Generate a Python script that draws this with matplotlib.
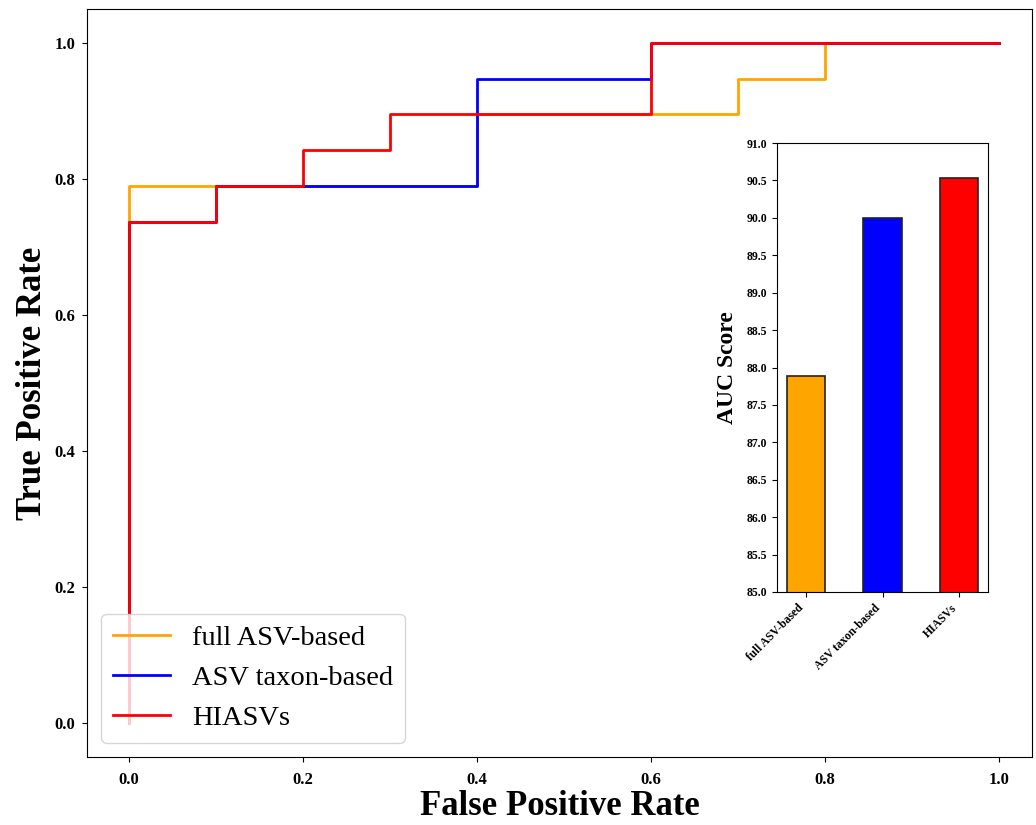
import matplotlib
matplotlib.use("Agg")
import matplotlib.pyplot as plt

plt.rcParams['font.family'] = ['Liberation Serif', 'DejaVu Serif']

# ROC corner points (fpr, tpr)
labels = ['full ASV-based', 'ASV taxon-based', 'HIASVs']
colors = ['orange', 'blue', 'red']

fpr_full = [0.0, 0.0, 0.4, 0.4, 0.7, 0.7, 0.8, 0.8, 1.0]
tpr_full = [0.0, 0.789, 0.789, 0.895, 0.895, 0.947, 0.947, 1.0, 1.0]

fpr_taxon = [0.0, 0.0, 0.1, 0.1, 0.4, 0.4, 0.6, 0.6, 1.0]
tpr_taxon = [0.0, 0.737, 0.737, 0.789, 0.789, 0.947, 0.947, 1.0, 1.0]

fpr_hiasv = [0.0, 0.0, 0.1, 0.1, 0.2, 0.2, 0.3, 0.3, 0.6, 0.6, 1.0]
tpr_hiasv = [0.0, 0.737, 0.737, 0.789, 0.789, 0.842, 0.842, 0.895, 0.895, 1.0, 1.0]

auc_scores = [87.89, 90.0, 90.53]

fig = plt.figure(figsize=(10.36, 8.25), dpi=100)
ax = fig.add_axes([87 / 1036, 1 - 757 / 825, (1032 - 87) / 1036, (757 - 9) / 825])

curves = [(fpr_full, tpr_full), (fpr_taxon, tpr_taxon), (fpr_hiasv, tpr_hiasv)]
for (fx, ty), lab, col in zip(curves, labels, colors):
    ax.plot(fx, ty, color=col, lw=2, label=lab)

ax.set_xlim(-0.048, 1.038)
ax.set_ylim(-0.05, 1.05)
ax.set_xticks([0.0, 0.2, 0.4, 0.6, 0.8, 1.0])
ax.set_yticks([0.0, 0.2, 0.4, 0.6, 0.8, 1.0])
ax.tick_params(axis='x', pad=7)
ax.tick_params(axis='y', pad=5)
for t in ax.get_xticklabels() + ax.get_yticklabels():
    t.set_fontweight('bold')
    t.set_fontsize(12)
ax.set_xlabel('False Positive Rate', fontsize=25, fontweight='bold', labelpad=2)
ax.set_ylabel('True Positive Rate', fontsize=25, fontweight='bold')

leg = ax.legend(loc='lower left', fontsize=20.5, handlelength=2.0,
                handletextpad=0.8, labelspacing=0.5)
for line in leg.get_lines():
    line.set_linewidth(2)

# inset: AUC bars
ins = fig.add_axes([777 / 1036, 1 - 592 / 825, (988 - 777) / 1036, (592 - 143) / 825])
ins.bar(labels, auc_scores, color=colors, width=0.5, edgecolor='#222222', linewidth=1.2)
ins.set_ylim(85, 91)
ins.set_yticks([85.0, 85.5, 86.0, 86.5, 87.0, 87.5, 88.0, 88.5, 89.0, 89.5, 90.0, 90.5, 91.0])
ins.set_yticklabels([f'{v:.1f}' for v in ins.get_yticks()], fontsize=8.5, fontweight='bold')
ins.set_xticks(range(len(labels)))
ins.set_xticklabels(labels, rotation=45, ha='right', fontsize=8.5, fontweight='bold')
ins.set_ylabel('AUC Score', fontsize=17, fontweight='bold', labelpad=6)

fig.savefig('out.png', dpi=100)
